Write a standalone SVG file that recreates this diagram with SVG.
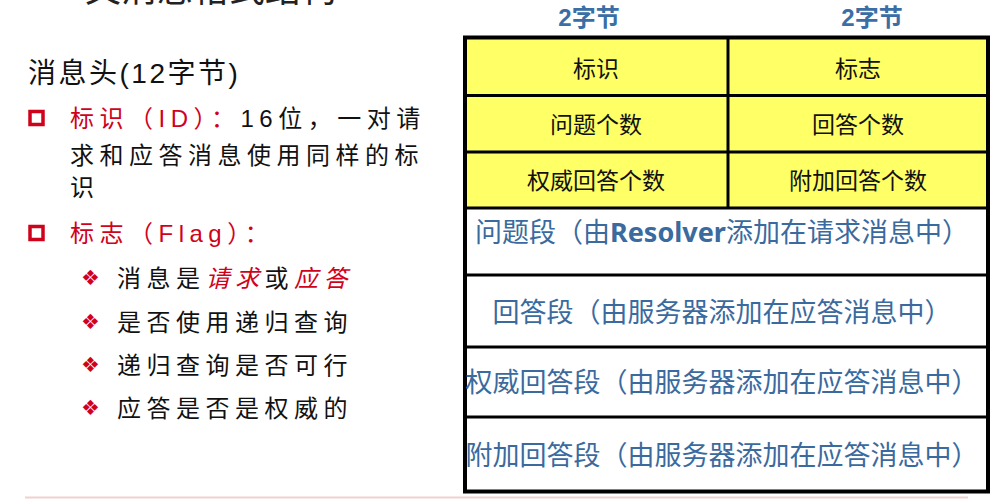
<svg xmlns="http://www.w3.org/2000/svg" width="1003" height="504" viewBox="0 0 1003 504">
<style>
.cjk{font-family:"Liberation Sans","Noto Sans CJK SC",sans-serif}
.left{font-family:"Liberation Sans","Noto Sans CJK SC",sans-serif;font-size:24px;letter-spacing:5.5px}
.red{fill:#d0021b}
.blk{fill:#111}
.hdr{font-family:"Liberation Sans","Noto Sans CJK SC",sans-serif;font-size:24px;font-weight:bold;fill:#3a6ea5;text-anchor:middle}
.ycell{font-family:"Noto Sans CJK SC",sans-serif;font-size:23px;fill:#111;text-anchor:middle}
.wcell{font-family:"Noto Sans CJK SC",sans-serif;font-size:27px;fill:#3a6a9e;text-anchor:middle}
.box{fill:none;stroke:#d0021b;stroke-width:3.5}
.dia{font-family:"DejaVu Sans",sans-serif;font-size:21px;fill:#d0021b}
.grid{stroke:#000;stroke-width:3;fill:none}
</style>
<rect width="1003" height="504" fill="#fff"/>
<g id="title">
<text x="85" y="2" class="cjk" font-size="36" fill="#222">文消息格式结构</text>
</g>
<g id="left-text">
<text x="28" y="83" class="cjk" font-size="28" fill="#111" letter-spacing="2.5">消息头(12字节)</text>
<rect class="box" x="30" y="111.5" width="13" height="13"/>
<text x="70" y="127" class="left"><tspan class="red">标识（ID）：</tspan><tspan class="blk">16位，一对请</tspan></text>
<text x="70" y="164" class="left blk">求和应答消息使用同样的标</text>
<text x="70" y="196" class="left blk">识</text>
<rect class="box" x="30" y="226.5" width="13" height="13"/>
<text x="70" y="242" class="left red">标志（Flag）：</text>
<text x="81" y="285" class="dia">❖</text>
<text x="117" y="287" class="left blk">消息是<tspan class="red" font-style="italic">请求</tspan>或<tspan class="red" font-style="italic">应答</tspan></text>
<text x="81" y="329" class="dia">❖</text>
<text x="117" y="331" class="left blk">是否使用递归查询</text>
<text x="81" y="372" class="dia">❖</text>
<text x="117" y="374" class="left blk">递归查询是否可行</text>
<text x="81" y="415" class="dia">❖</text>
<text x="117" y="417" class="left blk">应答是否是权威的</text>
</g>
<g id="headers">
<text x="589" y="26" class="hdr">2字节</text>
<text x="872" y="26" class="hdr">2字节</text>
</g>
<g id="table">
<rect x="465" y="37.5" width="523" height="170.5" fill="#ffff66"/>
<rect x="465" y="208" width="523" height="283.5" fill="#fff"/>
<g class="grid">
<line x1="465" y1="95.5" x2="988" y2="95.5"/>
<line x1="465" y1="152" x2="988" y2="152"/>
<line x1="465" y1="208" x2="988" y2="208"/>
<line x1="465" y1="275" x2="988" y2="275"/>
<line x1="465" y1="347" x2="988" y2="347"/>
<line x1="465" y1="417" x2="988" y2="417"/>
<line x1="728" y1="37.5" x2="728" y2="208"/>
</g>
<rect x="465" y="37.5" width="523" height="454" fill="none" stroke="#000" stroke-width="4"/>
</g>
<g id="cell-id"><text x="596" y="77" class="ycell">标识</text></g>
<g id="cell-flag"><text x="858" y="77" class="ycell">标志</text></g>
<g id="cell-qd"><text x="596" y="133" class="ycell">问题个数</text></g>
<g id="cell-an"><text x="858" y="133" class="ycell">回答个数</text></g>
<g id="cell-ns"><text x="596" y="189" class="ycell">权威回答个数</text></g>
<g id="cell-ar"><text x="858" y="189" class="ycell">附加回答个数</text></g>
<g id="sec-question"><text x="722" y="242" class="wcell">问题段（由<tspan font-family="Noto Sans,sans-serif" font-weight="bold">Resolver</tspan>添加在请求消息中）</text></g>
<g id="sec-answer"><text x="722" y="322" class="wcell">回答段（由服务器添加在应答消息中）</text></g>
<g id="sec-authority"><text x="722" y="392" class="wcell">权威回答段（由服务器添加在应答消息中）</text></g>
<g id="sec-additional"><text x="722" y="465" class="wcell">附加回答段（由服务器添加在应答消息中）</text></g>
<g id="connectors"></g>
<line x1="25" y1="497.5" x2="968" y2="497.5" stroke="#f2d0d0" stroke-width="2"/>
</svg>
